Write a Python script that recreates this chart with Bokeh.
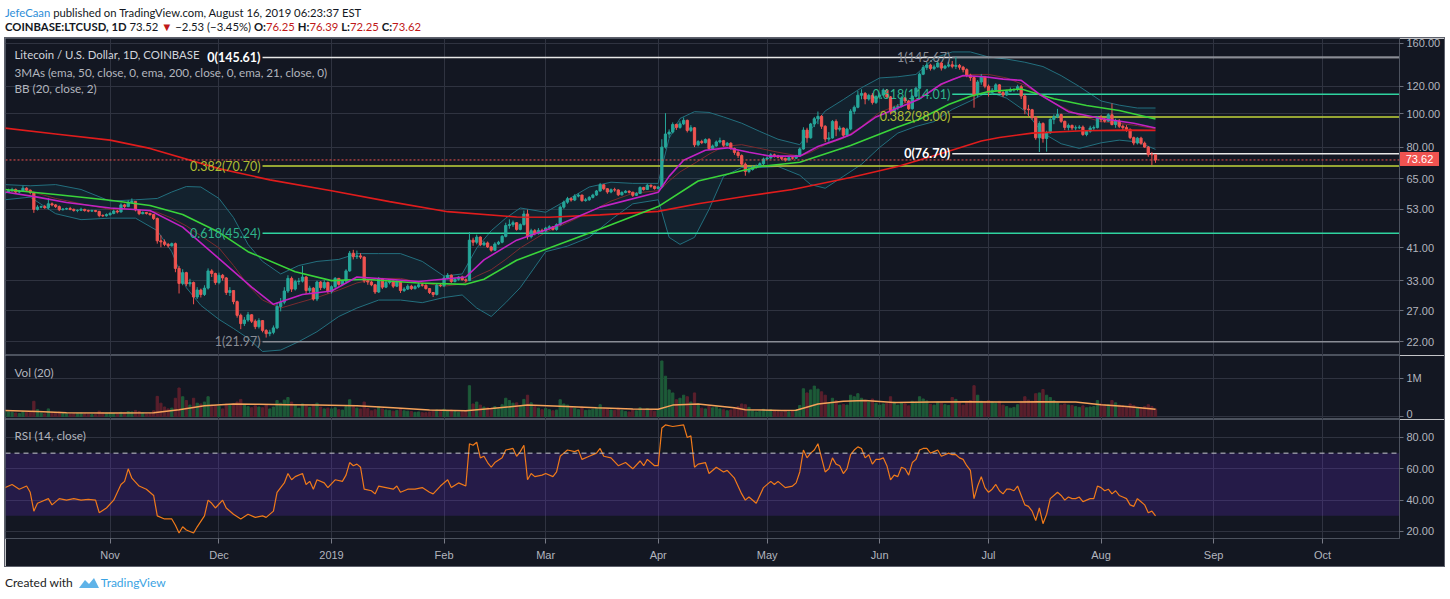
from datetime import datetime, timedelta
from bokeh.plotting import figure
from bokeh.models import (Range1d, FixedTicker, NumeralTickFormatter, CustomJSTickFormatter,
                          Span, Label, Div, Spacer, ColumnDataSource, BoxAnnotation)
from bokeh.layouts import column, row
from bokeh.embed import file_html
from bokeh.resources import INLINE

# ---------------- data (daily candles, 2018-10-03 .. 2019-08-16) ----------------
first_day = "2018-10-03"
first_open = 59.0
close = [
    # Oct 2018
    59.5,60.0,60.5,59.5,59.8,61.0,60.2,59.3,53.0,53.8,54.0,53.6,55.0,54.6,54.0,52.9,53.1,53.3,53.0,52.6,52.7,53.0,52.6,52.4,52.6,52.3,50.9,50.8,51.2,
    # Nov
    51.6,52.4,52.1,54.6,54.0,55.6,55.9,52.8,51.5,51.9,51.6,51.2,49.9,43.0,42.7,42.0,41.6,42.2,35.8,32.4,34.8,32.3,32.6,29.6,31.0,30.1,31.4,35.2,34.6,32.6,
    # Dec
    34.2,33.6,30.5,30.9,28.7,26.2,24.8,25.4,26.3,25.2,24.3,25.3,23.7,23.2,23.4,24.1,27.8,28.6,30.8,33.5,31.2,32.8,32.9,33.8,30.9,31.4,29.2,32.7,31.5,32.6,30.7,
    # Jan 2019
    31.7,33.5,32.2,32.9,35.2,39.6,38.7,38.9,38.6,33.0,32.7,32.1,30.6,33.4,31.6,32.6,32.9,31.8,32.7,30.9,31.2,31.8,31.3,31.7,32.1,32.0,31.3,30.5,30.1,32.0,31.9,
    # Feb
    33.6,34.2,32.8,33.3,33.8,33.2,33.0,43.2,42.6,44.1,41.9,42.4,41.3,40.4,42.1,42.6,44.3,47.6,47.9,48.5,46.4,47.9,51.4,44.2,46.0,45.2,46.1,45.9,
    # Mar
    46.8,47.2,46.4,47.9,53.8,55.6,56.9,56.4,57.9,58.3,56.2,56.5,57.4,58.3,59.9,62.4,60.8,59.5,60.4,60.3,58.4,59.3,59.8,59.4,58.2,58.9,61.3,60.5,62.2,61.8,60.9,
    # Apr
    61.5,80.2,87.5,88.6,93.2,91.4,93.6,95.8,89.6,91.2,81.4,83.2,82.6,84.3,79.4,80.8,83.0,83.7,81.2,82.3,79.5,77.4,75.8,71.6,68.2,69.1,70.2,70.6,71.8,74.1,
    # May
    74.6,76.2,75.6,75.0,74.4,73.6,74.7,74.5,75.8,79.2,89.8,85.3,93.5,96.8,98.4,92.1,84.6,85.2,95.1,90.3,91.0,86.8,90.4,101.8,104.5,113.2,114.6,110.4,113.1,107.9,112.3,
    # Jun
    113.4,117.2,112.0,101.5,104.3,105.1,111.2,109.0,103.5,112.4,118.6,130.2,136.1,138.4,135.2,136.7,140.3,135.6,137.4,138.6,137.2,138.1,136.4,134.2,129.4,127.3,113.5,123.6,127.8,120.2,
    # Jul
    115.4,117.1,121.3,115.2,113.4,116.2,117.3,117.6,119.8,112.6,103.2,102.8,97.6,85.3,93.8,84.9,88.2,96.4,98.1,99.6,95.2,91.4,92.6,91.1,91.2,91.6,87.2,89.1,91.0,91.3,97.8,
    # Aug
    96.2,95.3,99.4,93.2,95.4,92.1,91.3,90.2,85.4,82.4,85.1,82.3,80.2,76.3,76.25,73.62,
]
high = [
    60.4,60.8,61.2,60.9,60.3,62.0,61.4,60.5,59.6,54.5,54.4,54.6,57.2,55.5,54.9,54.4,53.5,53.6,53.9,53.3,53.0,53.6,53.2,52.9,52.9,52.8,52.5,51.3,51.6,
    52.0,52.9,52.8,55.2,55.0,56.3,57.0,56.0,52.9,52.3,52.1,51.8,51.4,50.2,44.6,43.4,42.4,42.5,42.5,36.4,35.6,35.0,33.4,32.8,31.6,31.3,32.0,35.8,35.6,34.8,
    34.8,34.5,33.8,31.6,31.0,28.9,26.5,25.9,26.8,26.4,25.5,25.7,25.4,23.9,23.8,24.5,28.5,29.4,31.6,34.2,33.9,33.2,33.6,36.4,34.0,31.9,31.6,33.0,32.9,33.1,32.8,
    32.0,33.8,33.6,33.1,35.6,40.2,40.5,40.3,39.6,38.8,33.4,33.0,32.3,33.8,33.6,32.9,33.2,33.0,33.1,32.8,31.6,32.2,32.1,32.0,32.6,32.5,32.2,31.4,30.6,32.4,32.4,
    34.1,34.7,34.4,33.6,34.0,34.1,33.5,45.6,43.9,44.8,44.3,42.9,42.8,41.6,42.6,43.0,44.7,48.5,49.6,49.2,48.7,48.3,52.6,52.9,46.6,46.5,46.8,46.6,
    47.2,47.7,47.4,48.3,54.4,56.2,57.6,57.4,58.6,59.0,58.4,57.2,57.9,58.8,60.3,63.2,62.6,61.0,60.9,61.2,60.6,59.8,60.2,60.1,59.6,59.4,61.8,61.6,62.8,62.6,62.0,
    62.0,84.5,100.5,90.2,94.5,93.8,95.2,97.6,96.3,92.8,91.6,84.0,84.2,85.0,85.2,81.6,83.8,85.4,84.1,83.0,82.8,79.9,78.6,76.4,72.4,69.8,70.9,71.4,72.5,74.8,
    75.4,77.0,76.8,76.2,75.4,74.8,75.5,75.3,76.2,80.0,91.5,91.2,94.2,98.0,101.6,99.3,92.8,88.6,96.0,96.4,92.4,91.4,91.2,103.2,105.8,116.4,117.8,115.6,114.3,114.8,113.2,
    115.2,118.4,118.0,112.6,105.6,106.8,112.4,112.0,109.8,113.2,119.8,131.6,138.4,141.2,139.6,138.8,142.8,141.4,138.6,141.0,142.2,146.2,139.4,137.6,135.4,130.6,128.6,125.2,130.4,128.8,
    121.6,118.8,122.6,122.0,116.4,117.4,119.2,118.6,121.4,121.2,113.8,106.2,103.4,98.6,95.2,94.6,89.4,97.2,99.6,103.4,100.2,95.6,93.8,93.2,92.6,92.8,92.6,89.8,92.4,92.6,98.6,
    99.2,97.4,100.4,107.2,96.8,96.6,93.2,92.8,90.8,86.0,85.8,85.9,83.2,80.8,77.6,76.39,
]
low = [
    58.6,59.1,59.6,59.0,59.0,59.5,59.7,58.6,51.8,52.6,53.4,53.2,53.0,54.1,53.5,52.4,52.6,52.8,52.7,52.2,52.0,52.4,52.2,52.0,52.1,52.0,50.3,50.4,50.5,
    50.8,51.3,51.6,51.9,53.4,53.8,55.2,52.3,51.0,51.3,51.2,50.8,49.4,42.2,41.2,41.5,41.1,41.4,34.9,30.3,32.0,31.8,31.7,28.2,29.2,29.5,29.8,31.1,33.8,32.1,
    32.2,33.0,30.0,29.8,28.2,25.8,23.9,24.4,25.1,24.9,23.9,24.0,23.4,22.6,22.8,23.1,23.9,26.9,28.2,30.4,30.6,30.9,32.1,32.6,30.2,30.2,28.9,28.8,31.0,31.2,30.3,
    30.3,31.4,31.9,32.0,32.6,35.0,38.0,38.1,38.1,32.5,32.1,31.8,30.2,30.4,31.2,31.4,32.2,31.4,31.6,30.4,30.6,31.0,31.0,31.1,31.4,31.7,31.1,30.2,29.6,29.9,31.6,
    31.6,33.3,32.5,32.6,33.0,33.0,32.6,32.9,41.6,42.0,41.5,41.5,41.0,40.0,40.2,41.8,42.3,44.0,46.6,47.2,46.0,46.1,47.6,43.4,43.7,44.6,44.8,45.4,
    45.4,46.3,46.0,46.0,47.5,53.2,55.0,55.8,56.0,57.4,55.7,55.8,56.1,57.0,58.0,59.6,60.2,58.8,59.0,59.6,57.9,58.1,59.0,58.9,57.6,57.9,58.7,60.0,60.3,61.2,60.4,
    60.4,61.0,79.4,85.3,87.8,89.9,90.6,92.8,88.4,88.6,80.2,80.6,81.8,82.1,78.6,78.8,80.4,82.2,80.4,80.7,78.8,76.2,74.6,70.9,66.3,67.4,68.6,69.5,70.2,71.2,
    73.6,74.2,74.8,74.4,73.6,72.8,73.2,73.8,74.1,75.4,78.8,82.6,84.8,91.6,93.4,90.5,82.9,83.1,84.8,86.2,89.0,85.4,85.8,89.6,99.8,103.8,110.2,106.6,109.2,106.4,106.8,
    110.6,112.8,110.4,99.6,100.8,102.6,104.4,107.6,102.6,102.9,111.6,118.2,129.4,134.0,133.4,133.8,136.0,133.4,134.6,136.2,135.4,134.8,134.2,131.8,127.6,124.6,104.2,111.6,121.4,118.6,
    112.2,113.6,116.2,114.6,111.8,112.6,115.6,115.8,116.2,110.4,99.8,98.4,96.2,84.2,77.6,82.6,77.8,87.6,93.4,97.2,94.2,89.8,89.6,89.8,89.6,90.4,86.4,86.2,88.2,89.6,90.8,
    94.6,94.4,95.0,92.6,91.2,91.0,89.4,88.8,84.6,81.2,81.6,81.4,79.8,75.2,71.2,72.25,
]
volume_k = [
    150,120,110,90,80,130,110,120,400,180,90,70,200,110,100,120,80,70,60,70,80,90,70,60,50,50,140,100,90,
    90,80,70,110,100,130,120,160,130,90,70,80,150,530,350,250,200,220,480,750,520,420,300,480,350,330,380,520,300,280,
    270,200,330,300,330,380,450,300,260,230,280,250,230,300,200,250,420,350,430,500,380,300,220,330,280,240,310,350,250,200,220,
    200,230,180,170,260,440,260,220,200,380,210,150,180,260,200,170,160,140,160,210,150,140,130,110,120,100,100,120,150,170,140,
    190,150,170,130,110,120,150,810,330,380,300,250,230,220,260,200,310,480,420,350,360,280,450,560,360,260,220,180,
    210,180,150,170,440,330,300,250,220,180,250,160,170,190,240,310,200,190,170,160,220,160,130,120,180,150,230,170,210,180,140,
    170,1460,1060,700,620,440,480,560,520,380,620,330,220,200,280,230,250,200,180,150,170,210,260,330,310,240,150,120,140,190,
    160,180,140,120,110,160,120,150,180,290,730,620,700,800,720,650,560,340,480,420,300,320,300,560,520,600,480,420,380,460,350,
    300,330,350,520,380,300,360,330,280,400,380,520,460,410,320,300,380,350,310,290,500,450,380,300,400,420,810,560,400,380,
    420,380,350,400,300,260,220,240,310,400,520,430,400,600,620,710,560,500,420,360,300,330,300,290,260,240,280,230,250,260,420,
    330,300,310,420,360,300,280,260,330,290,220,230,260,310,260,200,
]

# moving averages
ema200_dates = ["2018-10-03","2018-10-17","2018-11-01","2018-11-12","2018-12-01","2018-12-15","2019-01-01","2019-01-17",
                "2019-02-02","2019-02-21","2019-03-02","2019-03-16","2019-04-01","2019-04-12","2019-04-26","2019-05-08",
                "2019-05-24","2019-06-06","2019-06-20","2019-06-29","2019-07-04","2019-07-13","2019-07-27","2019-08-08","2019-08-16"]
ema200_vals = [91.0,87.5,84.0,79.5,69.5,64.5,60.0,55.8,52.2,50.4,50.3,51.1,52.3,55.0,58.0,60.5,65.5,70.5,78.0,83.5,85.5,88.0,89.4,89.8,89.6]

ema50_dates = ["2018-10-03","2018-10-17","2018-11-01","2018-11-12","2018-11-21","2018-12-01","2018-12-09","2018-12-22",
               "2019-01-01","2019-01-10","2019-01-25","2019-02-07","2019-02-12","2019-02-21","2019-03-02","2019-03-16",
               "2019-04-01","2019-04-12","2019-04-29","2019-05-10","2019-05-24","2019-06-06","2019-06-12","2019-06-20",
               "2019-06-26","2019-07-01","2019-07-10","2019-07-19","2019-07-28","2019-08-06","2019-08-16"]
ema50_vals = [60.5,58.5,56.3,54.4,51.2,45.5,40.0,35.0,33.0,33.3,32.5,32.2,33.3,37.8,41.0,46.5,54.0,64.0,70.5,72.5,
              81.0,91.6,96.5,106.5,112.5,116.0,118.0,110.6,105.7,102.3,96.7]

ema21_dates = ["2018-10-03","2018-10-12","2018-10-20","2018-11-01","2018-11-12","2018-11-21","2018-12-01","2018-12-10",
               "2018-12-16","2018-12-24","2019-01-01","2019-01-08","2019-01-15","2019-01-25","2019-02-07","2019-02-12",
               "2019-02-21","2019-03-02","2019-03-16","2019-04-01","2019-04-04","2019-04-08","2019-04-14","2019-04-20",
               "2019-04-26","2019-05-02","2019-05-10","2019-05-15","2019-05-20","2019-05-24","2019-05-31","2019-06-06",
               "2019-06-12","2019-06-18","2019-06-24","2019-06-30","2019-07-05","2019-07-10","2019-07-15","2019-07-23",
               "2019-08-01","2019-08-10","2019-08-16"]
ema21_vals = [59.5,57.5,55.5,53.5,52.6,47.1,38.2,31.6,28.2,30.1,30.8,33.8,33.4,32.8,33.8,37.9,43.2,46.6,53.8,59.4,
              66.0,73.5,78.5,79.8,77.5,75.5,75.5,80.5,84.0,87.0,98.0,104.0,110.5,122.0,129.0,128.0,126.0,125.0,114.0,
              101.5,97.0,94.0,91.0]

bb_dates = ["2018-10-03","2018-10-10","2018-10-17","2018-10-24","2018-11-01","2018-11-08","2018-11-14","2018-11-18",
            "2018-11-22","2018-11-26","2018-12-01","2018-12-05","2018-12-09","2018-12-13","2018-12-18","2018-12-23",
            "2018-12-28","2019-01-03","2019-01-08","2019-01-14","2019-01-20","2019-01-26","2019-02-01","2019-02-06",
            "2019-02-10","2019-02-14","2019-02-18","2019-02-22","2019-03-01","2019-03-07","2019-03-13","2019-03-19",
            "2019-03-25","2019-04-01","2019-04-02","2019-04-04","2019-04-07","2019-04-11","2019-04-15","2019-04-19",
            "2019-04-24","2019-04-29","2019-05-04","2019-05-10","2019-05-13","2019-05-17","2019-05-22","2019-05-27",
            "2019-06-01","2019-06-06","2019-06-11","2019-06-16","2019-06-21","2019-06-26","2019-07-01","2019-07-06",
            "2019-07-11","2019-07-16","2019-07-21","2019-07-26","2019-08-01","2019-08-06","2019-08-11","2019-08-16"]
bb_upper = [62.5,62.0,62.5,60.5,56.0,56.5,57.0,59.5,61.7,61.5,57.0,50.2,42.0,37.5,34.5,36.5,
            37.5,38.0,39.5,39.5,39.5,37.5,34.0,34.5,41.0,46.0,50.0,53.5,52.0,56.5,61.5,63.5,
            63.0,63.0,70.0,85.0,97.0,101.5,101.0,98.0,94.0,89.0,84.5,81.5,90.0,102.0,110.0,119.0,
            127.0,128.0,130.0,145.0,151.0,151.0,146.0,144.0,141.0,137.0,129.0,120.0,109.0,106.0,104.0,104.0]
bb_basis = [59.5,59.8,57.0,55.0,53.0,53.0,52.0,50.0,47.5,44.5,41.0,36.5,32.0,29.0,27.5,28.5,
            29.5,31.0,32.5,33.5,33.5,32.5,31.8,32.3,34.0,35.5,38.0,41.0,45.5,48.5,52.0,56.0,
            59.0,60.0,61.0,64.0,68.0,72.0,76.5,80.5,81.5,79.5,77.5,75.5,77.5,81.5,85.0,92.0,
            101.0,106.0,110.0,118.0,126.0,130.0,130.0,127.0,121.0,112.0,105.0,99.0,95.0,94.0,92.5,90.5]
bb_lower = [56.5,57.5,51.5,49.5,50.0,50.0,46.0,40.0,31.5,28.0,25.5,24.0,22.5,20.6,20.8,22.0,
            23.5,26.0,27.5,29.0,29.0,28.5,29.5,30.0,27.5,26.0,28.5,31.5,40.0,41.5,44.0,49.5,
            55.0,56.5,52.0,44.0,42.0,44.0,53.0,66.0,70.0,70.0,70.5,66.5,62.5,61.0,66.0,71.5,
            80.0,88.0,92.0,95.0,103.0,109.0,116.0,111.0,102.0,88.0,82.0,79.5,82.5,84.0,83.0,79.0]

volma_dates = ["2018-10-03","2018-10-12","2018-10-20","2018-11-01","2018-11-13","2018-11-20","2018-11-27","2018-12-05",
               "2018-12-12","2018-12-20","2018-12-28","2019-01-08","2019-01-18","2019-01-28","2019-02-07","2019-02-14",
               "2019-02-24","2019-03-05","2019-03-15","2019-03-25","2019-04-01","2019-04-05","2019-04-12","2019-04-22",
               "2019-04-25","2019-05-05","2019-05-09","2019-05-15","2019-05-22","2019-05-28","2019-06-05","2019-06-15",
               "2019-06-25","2019-07-05","2019-07-15","2019-07-25","2019-08-01","2019-08-08","2019-08-16"]
volma_vals = [160,130,100,90,100,180,280,330,320,310,300,280,230,170,150,210,300,270,230,200,190,300,330,230,
              180,160,165,330,400,420,370,380,390,380,390,380,310,260,190]

rsi_dates = [
    "2018-10-03","2018-10-05","2018-10-07","2018-10-09","2018-10-10","2018-10-11","2018-10-12","2018-10-13","2018-10-15",
    "2018-10-16","2018-10-18","2018-10-20","2018-10-22","2018-10-24","2018-10-26","2018-10-28","2018-10-29","2018-10-31",
    "2018-11-02","2018-11-04","2018-11-05","2018-11-06","2018-11-07","2018-11-09","2018-11-11","2018-11-13","2018-11-14",
    "2018-11-16","2018-11-18","2018-11-19","2018-11-20","2018-11-21","2018-11-22","2018-11-24","2018-11-25","2018-11-27",
    "2018-11-28","2018-11-29","2018-11-30",
    "2018-12-02","2018-12-03","2018-12-05","2018-12-07","2018-12-09","2018-12-11","2018-12-13","2018-12-14","2018-12-16",
    "2018-12-17","2018-12-18","2018-12-19","2018-12-20","2018-12-21","2018-12-22","2018-12-24","2018-12-25","2018-12-26",
    "2018-12-27","2018-12-28","2018-12-30","2018-12-31",
    "2019-01-02","2019-01-04","2019-01-05","2019-01-06","2019-01-07","2019-01-08","2019-01-09","2019-01-10","2019-01-12",
    "2019-01-13","2019-01-14","2019-01-16","2019-01-18","2019-01-19","2019-01-20","2019-01-22","2019-01-24","2019-01-26",
    "2019-01-28","2019-01-29","2019-01-31",
    "2019-02-02","2019-02-03","2019-02-05","2019-02-07","2019-02-08","2019-02-09","2019-02-10","2019-02-11","2019-02-12",
    "2019-02-13","2019-02-14","2019-02-15","2019-02-17","2019-02-18","2019-02-20","2019-02-21","2019-02-22","2019-02-23",
    "2019-02-24","2019-02-25","2019-02-26","2019-02-28",
    "2019-03-01","2019-03-03","2019-03-04","2019-03-05","2019-03-06","2019-03-07","2019-03-09","2019-03-10","2019-03-11",
    "2019-03-13","2019-03-15","2019-03-16","2019-03-17","2019-03-19","2019-03-21","2019-03-23","2019-03-25","2019-03-27",
    "2019-03-28","2019-03-29","2019-03-31",
    "2019-04-01","2019-04-02","2019-04-03","2019-04-05","2019-04-08","2019-04-09","2019-04-10","2019-04-11","2019-04-12",
    "2019-04-14","2019-04-15","2019-04-17","2019-04-19","2019-04-20","2019-04-22","2019-04-24","2019-04-25","2019-04-26",
    "2019-04-28","2019-04-30",
    "2019-05-02","2019-05-03","2019-05-04","2019-05-06","2019-05-08","2019-05-09","2019-05-10","2019-05-11","2019-05-12",
    "2019-05-13","2019-05-14","2019-05-15","2019-05-16","2019-05-17","2019-05-18","2019-05-19","2019-05-20","2019-05-21",
    "2019-05-22","2019-05-23","2019-05-24","2019-05-25","2019-05-26","2019-05-27","2019-05-28","2019-05-29","2019-05-30",
    "2019-05-31",
    "2019-06-01","2019-06-02","2019-06-03","2019-06-04","2019-06-05","2019-06-06","2019-06-07","2019-06-08","2019-06-09",
    "2019-06-10","2019-06-11","2019-06-12","2019-06-13","2019-06-14","2019-06-15","2019-06-16","2019-06-17","2019-06-18",
    "2019-06-19","2019-06-20","2019-06-21","2019-06-22","2019-06-23","2019-06-24","2019-06-25","2019-06-26","2019-06-27",
    "2019-06-28","2019-06-29","2019-06-30",
    "2019-07-01","2019-07-02","2019-07-03","2019-07-04","2019-07-05","2019-07-06","2019-07-07","2019-07-08","2019-07-09",
    "2019-07-10","2019-07-11","2019-07-12","2019-07-13","2019-07-14","2019-07-15","2019-07-16","2019-07-17","2019-07-18",
    "2019-07-19","2019-07-20","2019-07-21","2019-07-22","2019-07-23","2019-07-24","2019-07-25","2019-07-26","2019-07-27",
    "2019-07-28","2019-07-29","2019-07-30","2019-07-31",
    "2019-08-01","2019-08-02","2019-08-03","2019-08-04","2019-08-05","2019-08-06","2019-08-07","2019-08-08","2019-08-09",
    "2019-08-10","2019-08-11","2019-08-12","2019-08-13","2019-08-14","2019-08-15","2019-08-16",
]
rsi_vals = [
    48,50,47,49,45,33,38,39,41, 37,41,40,41,40,40.5,40,32,35,
    40,50,52,60,54,49,47,43,30, 28,28,24,19,23,21,19,23,30, 40,38,35,
    40,35,31,28,31,29,30,29,33, 45,48,51,57,53,55,57,50,52, 47,53,51,48,
    53,52,56,64,62,63,61,47,46, 44,49,48,47,49,45,47,47,48, 45,44,49,
    53,48,51,49,76,75,77,67,68, 64,61,64,67,72,73,68,71,75, 53,57,55,56,
    57,55,58,68,70,72,71,72,66, 68,70,73,68,67,62,64,60,65, 62,66,62,
    62,86,88,87,88,80,81,61,63, 64,57,61,58,59,54,44,40,42, 38,48,
    52,50,52,48,49,51,58,72,67, 70,72,76,67,58,60,67,63,62, 57,60,69,72,74,73,67,69,63, 66,
    66,67,62,53,56,55,61,60,56, 64,66,72,73,73,70,71,72,68, 69,70,69,69,67,66,62,59,41, 49,55,48,
    45,47,50,46,44,47,47,46,49, 43,37,36,33,27,35,25,31,41, 43,45,43,40,42,41,41,42,39, 40,41,41,49,
    48,46,47,44,46,43,42,41,37, 36,41,39,37,32,33,30,
]

price_ticks = [22, 27, 33, 41, 53, 65, 80, 100, 120, 160]
rsi_ticks = [20, 40, 60, 80]
vol_ticks = [0, 1000]
month_starts = ["2018-11-01","2018-12-01","2019-01-01","2019-02-01","2019-03-01","2019-04-01",
                "2019-05-01","2019-06-01","2019-07-01","2019-08-01","2019-09-01","2019-10-01"]

fib_a_anchor = "2018-12-13"
fib_a_levels = [145.61, 70.70, 45.24, 21.97]
fib_a_labels = ["0(145.61)", "0.382(70.70)", "0.618(45.24)", "1(21.97)"]
fib_b_anchor = "2019-06-21"
fib_b_levels = [145.67, 114.01, 98.00, 76.70]
fib_b_labels = ["1(145.67)", "0.618(114.01)", "0.382(98.00)", "0(76.70)"]
last_price = 73.62

# ---------------- styling ----------------
BG = "#131722"
GRID = "#2f3340"
TXT = "#b2b5be"
UP = "#26a69a"
DN = "#ef5350"
VUP = "#1d5a38"
VDN = "#5a1f2c"
FONT = "Liberation Sans"
TFONT = "Lato"
FIB_LINE = {"0": "#e8e8e8", "0.382": "#c3d63a", "0.618": "#2fd39f", "1": "#8a8d96"}
FIB_TXT = {"0": "#ffffff", "0.382": "#aebd33", "0.618": "#2fb38c", "1": "#8a8d96"}

def D(s):
    return datetime.strptime(s, "%Y-%m-%d")

def ms(dt):
    return (dt - datetime(1970, 1, 1)).total_seconds() * 1000.0

n = min(len(close), len(high), len(low), len(volume_k))
d0 = D(first_day)
dates = [d0 + timedelta(days=i) for i in range(n)]
opens = [first_open] + close[:n - 1]
cl = close[:n]
hi = [max(h, o, c) for h, o, c in zip(high, opens, cl)]
lo = [min(l, o, c) for l, o, c in zip(low, opens, cl)]
is_up = [c >= o for o, c in zip(opens, cl)]
src = ColumnDataSource(dict(
    x=dates, top=[max(o, c) for o, c in zip(opens, cl)], bot=[min(o, c) for o, c in zip(opens, cl)],
    hi=hi, lo=lo, color=[UP if u else DN for u in is_up],
    vol=volume_k[:n], vcolor=[VUP if u else VDN for u in is_up]))

DAY = 86400000.0
x_start = datetime(2019, 1, 1) - timedelta(days=89.81)
x_end = x_start + timedelta(days=1394 / 3.63)
xr = Range1d(start=x_start, end=x_end)
month_ms = [ms(D(s)) for s in month_starts]

month_fmt = CustomJSTickFormatter(code="""
const d = new Date(tick);
const m = d.getUTCMonth();
const names = ['Jan','Feb','Mar','Apr','May','Jun','Jul','Aug','Sep','Oct','Nov','Dec'];
return m == 0 ? String(d.getUTCFullYear()) : names[m];
""")

def base_fig(frame_h, y_range, y_type="linear", xaxis=None, bottom=0):
    p = figure(x_axis_type="datetime", y_axis_type=y_type, x_range=xr, y_range=y_range,
               frame_width=1394, frame_height=frame_h, x_axis_location=xaxis, y_axis_location="right",
               toolbar_location=None, output_backend="svg",
               min_border_left=0, min_border_right=45, min_border_top=0, min_border_bottom=bottom,
               background_fill_color=BG, border_fill_color=BG, outline_line_color="#4c525e")
    p.xgrid.ticker = FixedTicker(ticks=month_ms)
    p.xgrid.grid_line_color = GRID
    p.ygrid.grid_line_color = GRID
    ya = p.yaxis[0]
    ya.axis_line_color = "#4c525e"
    ya.major_tick_line_color = "#6a6e7a"
    ya.major_tick_out = 4
    ya.major_tick_in = 0
    ya.minor_tick_line_color = None
    ya.major_label_standoff = 3
    ya.major_label_text_color = TXT
    ya.major_label_text_font = FONT
    ya.major_label_text_font_size = "11px"
    return p

def title(p, text, y_from_bottom, size="11.7px", color=TXT, style="normal"):
    p.add_layout(Label(x=9, y=y_from_bottom, x_units="screen", y_units="screen", text=text,
                       text_color=color, text_font=TFONT, text_font_size=size, text_font_style=style,
                       text_baseline="middle", text_align="left"))

# ---------------- price panel ----------------
p1 = base_fig(317, Range1d(20.06, 165.1), y_type="log")
p1.yaxis.ticker = FixedTicker(ticks=price_ticks)
p1.yaxis.formatter = NumeralTickFormatter(format="0.00")
p1.ygrid.ticker = FixedTicker(ticks=price_ticks)

bb_x = [D(s) for s in bb_dates]
p1.varea(x=bb_x, y1=bb_lower, y2=bb_upper, fill_color="#1f7f8f", fill_alpha=0.11)
p1.line(bb_x, bb_upper, line_color="#236f7e", line_width=1)
p1.line(bb_x, bb_lower, line_color="#236f7e", line_width=1)
p1.line(bb_x, bb_basis, line_color="#7a2a2e", line_width=1)

xa, xb = D(fib_a_anchor), D(fib_b_anchor)
for anchor, levels, labels in ((xa, fib_a_levels, fib_a_labels), (xb, fib_b_levels, fib_b_labels)):
    for lev, lab in zip(levels, labels):
        key = lab.split("(")[0]
        p1.segment(x0=[anchor], y0=[lev], x1=[x_end], y1=[lev], line_color=FIB_LINE[key], line_width=1.5)
        p1.add_layout(Label(x=ms(anchor), y=lev, text=lab, x_offset=-2, text_align="right",
                            text_baseline="middle", text_color=FIB_TXT[key], text_font=TFONT,
                            text_font_size="12.5px", text_font_style="bold" if key == "0" else "normal"))

p1.add_layout(Span(location=last_price, dimension="width", line_color=DN, line_dash="2 2", line_width=1))

p1.segment(x0="x", y0="lo", x1="x", y1="hi", line_color="color", line_width=1, source=src)
p1.vbar(x="x", width=0.62 * DAY, top="top", bottom="bot", fill_color="color", line_color="color", source=src)

p1.line([D(s) for s in ema200_dates], ema200_vals, line_color="#e01c1c", line_width=1.6)
p1.line([D(s) for s in ema50_dates], ema50_vals, line_color="#3ad43a", line_width=1.6)
p1.line([D(s) for s in ema21_dates], ema21_vals, line_color="#c222c4", line_width=1.6)

title(p1, "Litecoin / U.S. Dollar, 1D, COINBASE", 301, size="11.4px", color="#d1d4dc")
title(p1, "3MAs (ema, 50, close, 0, ema, 200, close, 0, ema, 21, close, 0)", 284)
title(p1, "BB (20, close, 2)", 268)

# ---------------- volume panel ----------------
p2 = base_fig(64, Range1d(-79, 1605))
p2.yaxis.ticker = FixedTicker(ticks=vol_ticks)
p2.ygrid.ticker = FixedTicker(ticks=vol_ticks)
p2.yaxis.formatter = CustomJSTickFormatter(code="return tick >= 1000 ? (tick/1000) + 'M' : String(tick);")
p2.vbar(x="x", width=0.62 * DAY, top="vol", bottom=0, fill_color="vcolor", line_color="vcolor", source=src)
p2.line([D(s) for s in volma_dates], volma_vals, line_color="#f5a25a", line_width=1.5)
title(p2, "Vol (20)", 48)

# ---------------- RSI panel ----------------
p3 = base_fig(119, Range1d(15.53, 91.47), xaxis="below", bottom=28)
p3.yaxis.ticker = FixedTicker(ticks=rsi_ticks)
p3.ygrid.ticker = FixedTicker(ticks=rsi_ticks)
p3.yaxis.formatter = NumeralTickFormatter(format="0.00")
xa3 = p3.xaxis[0]
xa3.ticker = FixedTicker(ticks=month_ms)
xa3.formatter = month_fmt
xa3.axis_line_color = None
xa3.major_tick_line_color = "#787b86"
xa3.major_tick_out = 5
xa3.major_tick_in = 0
xa3.minor_tick_line_color = None
xa3.major_label_standoff = 5
xa3.major_label_text_color = TXT
xa3.major_label_text_font = FONT
xa3.major_label_text_font_size = "11px"
p3.add_layout(BoxAnnotation(bottom=30, top=70, fill_color="#6a2fd0", fill_alpha=0.22, line_color=None, level="underlay"))
p3.add_layout(Span(location=70, dimension="width", line_color="#c8cad0", line_dash="5 4", line_width=1))
p3.line([D(s) for s in rsi_dates], rsi_vals, line_color="#f07a1a", line_width=1.2)
title(p3, "RSI (14, close)", 104)

# ---------------- header / footer / price tag ----------------
RED = "#c01818"
header_html = (
    '<div style="font-family:Lato,\'Liberation Sans\',sans-serif;line-height:14px;'
    'color:#131722;padding:6px 0 0 5px;white-space:nowrap;">'
    '<div style="font-size:11.3px;"><span style="color:#2e8ed8">JefeCaan</span> '
    'published on TradingView.com, August 16, 2019 06:23:37 EST</div>'
    '<div style="font-size:11.3px;"><b>COINBASE:LTCUSD, 1D</b> 73.52 <span style="color:%s">\u25bc</span> '
    '\u22122.53 (\u22123.45%%) '
    '<b>O:</b><span style="color:%s">76.25</span> <b>H:</b><span style="color:%s">76.39</span> '
    '<b>L:</b><span style="color:%s">72.25</span> <b>C:</b><span style="color:%s">73.62</span></div></div>'
) % (RED, RED, RED, RED, RED)
footer_html = (
    '<div style="font-family:Lato,\'Liberation Sans\',sans-serif;font-size:12px;line-height:14px;'
    'color:#222;padding:10px 0 0 5px;white-space:nowrap;">Created with '
    '<svg width="22" height="12" viewBox="0 0 22 12" style="vertical-align:-2px;margin:0 1px 0 2px">'
    '<path d="M1 11 L7 3 L11 7 L16 1 L21 11 Z" fill="#5fb3e8"/></svg>'
    '<span style="color:#3aa3e3">TradingView</span></div>'
)
header = Div(text=header_html, width=1450, height=38, margin=0)
footer = Div(text=footer_html, width=1450, height=33, margin=0)
tag = Div(text="%.2f" % last_price, width=39, height=14, margin=0,
          styles={"position": "absolute", "left": "1400px", "top": "152px", "z-index": "10",
                  "background-color": DN, "color": "white", "font-family": "'Liberation Sans', sans-serif",
                  "font-size": "11px", "line-height": "14px", "text-align": "center"})

charts = column(p1, p2, p3, spacing=0, styles={"outline": "1px solid #5d606b"})
body = row(Spacer(width=5, height=528), charts, spacing=0)
layout = column(header, body, footer, tag, spacing=0)

open("out.html", "w").write(file_html(layout, INLINE))
